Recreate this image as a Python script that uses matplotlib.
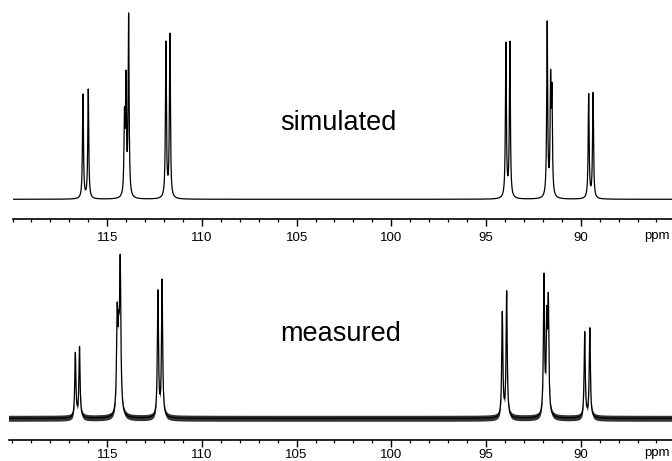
import numpy as np
import matplotlib
matplotlib.use("Agg")
import matplotlib.pyplot as plt
from matplotlib.ticker import MultipleLocator, FixedLocator

# ---- data ----
sim_pos = [116.28, 116.00, 114.09, 114.01, 113.87, 111.90, 111.69,
           93.95, 93.74, 91.77, 91.59, 91.52, 89.58, 89.35]
sim_amp = [104, 109, 75, 112, 180, 155, 163,
           154, 155, 174, 110, 97, 104, 105]
sim_width = [0.03] * len(sim_pos)

meas_pos = [116.68, 116.46, 114.47, 114.39, 114.31, 112.32, 112.10,
            94.14, 93.91, 91.94, 91.79, 91.71, 89.79, 89.52]
meas_amp = [64, 70, 95, 60, 146, 125, 136,
            104, 125, 138, 88, 108, 85, 89]
meas_width = [0.035, 0.035, 0.04, 0.04, 0.04, 0.035, 0.035,
              0.035, 0.035, 0.035, 0.035, 0.035, 0.035, 0.035]

major_ticks = [115, 110, 105, 100, 95, 90]
major_labels = ["115", "110", "105", "100", "95", "90"]
unit_label = "ppm"
panel_titles = ["simulated", "measured"]

NOISE_HALF_BAND = 3.0  # baseline noise envelope (intensity units)

ppm = np.arange(120.3, 85.0, -0.002)


def spectrum(pos, amp, width):
    y = np.zeros_like(ppm)
    for p, a, w in zip(pos, amp, width):
        y += a * w**2 / ((ppm - p) ** 2 + w**2)
    return y


plt.rcParams['font.family'] = ['Liberation Sans', 'DejaVu Sans']

W, H = 672, 461
fig = plt.figure(figsize=(W / 100, H / 100), dpi=100)


def make_axes(left_px, top_px, axis_px, base_px, xleft, pad, label_off):
    ax = fig.add_axes([left_px / W, 1 - axis_px / H,
                       1 - left_px / W, (axis_px - top_px) / H])
    ax.set_xlim(xleft, 85.18)
    ax.set_ylim(-(axis_px - base_px), base_px - top_px)
    for s in ("top", "left", "right"):
        ax.spines[s].set_visible(False)
    ax.spines["bottom"].set_linewidth(1.2)
    ax.set_yticks([])
    ax.xaxis.set_major_locator(FixedLocator(major_ticks))
    ax.set_xticklabels(major_labels)
    ax.xaxis.set_minor_locator(MultipleLocator(1))
    ax.tick_params(axis="x", which="major", direction="out", length=5.3,
                   width=1.0, pad=pad, labelsize=9.5)
    ax.tick_params(axis="x", which="minor", direction="out", length=1.8,
                   width=0.9)
    ax.patch.set_alpha(0)
    ax.text(86.0, -(axis_px - base_px) - label_off, unit_label, ha="center",
            va="center", fontsize=9.5, transform=ax.transData, clip_on=False)
    return ax


ax1 = make_axes(12.5, 0, 219.3, 199.3, 120.0, 3.8, 17)
ax1.plot(ppm, spectrum(sim_pos, sim_amp, sim_width), color="black", lw=0.9)
ax1.text(338.5 / W, 1 - 123.5 / H, panel_titles[0], transform=fig.transFigure,
         ha="center", va="center", fontsize=19.5)

ax2 = make_axes(9.4, 240, 440, 418.3, 120.16, 1.2, 13)
y2 = spectrum(meas_pos, meas_amp, meas_width)
ax2.fill_between(ppm, y2 - NOISE_HALF_BAND, y2 + NOISE_HALF_BAND,
                 color="black", alpha=0.8, lw=0)
ax2.plot(ppm, y2, color="black", lw=0.9)
ax2.text(341 / W, 1 - 334 / H, panel_titles[1], transform=fig.transFigure,
         ha="center", va="center", fontsize=19.5)

fig.savefig("out.png", dpi=100)
